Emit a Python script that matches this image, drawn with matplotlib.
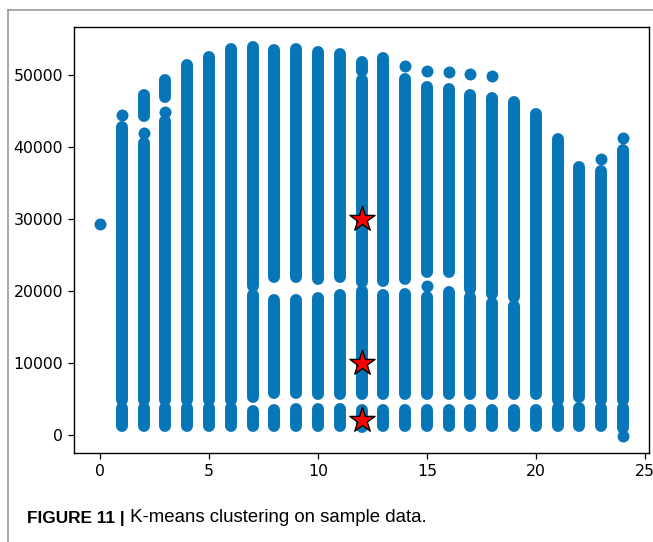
import matplotlib
matplotlib.use("Agg")
import matplotlib.pyplot as plt
from matplotlib.lines import Line2D

# ---- data ----
# continuous runs of points in each column: x, lowest y, highest y
seg_x = [1, 1,
         2, 2, 2,
         3, 3, 3,
         4, 4,
         5, 5,
         6, 6,
         7, 7, 7,
         8, 8, 8,
         9, 9, 9,
         10, 10, 10,
         11, 11, 11,
         12, 12, 12, 12,
         13, 13, 13,
         14, 14, 14,
         15, 15, 15,
         16, 16, 16,
         17, 17, 17,
         18, 18, 18,
         19, 19, 19,
         20, 20,
         21, 21,
         22, 22,
         23, 23,
         24, 24]
seg_lo = [1200, 4800,
          1200, 4800, 44300,
          1200, 4800, 47000,
          1200, 4800,
          1200, 4800,
          1200, 4800,
          1200, 5300, 20700,
          1200, 5900, 22000,
          1200, 5900, 21900,
          1200, 5700, 21650,
          1200, 5700, 21900,
          1050, 5700, 21200, 50500,
          1200, 5700, 21400,
          1200, 5700, 21650,
          1200, 5700, 22600,
          1200, 5700, 22600,
          1200, 5700, 20300,
          1200, 5700, 19600,
          1200, 5700, 19100,
          1200, 5700,
          1200, 4800,
          1200, 5300,
          1200, 4800,
          1000, 4800]
seg_hi = [3800, 42800,
          3800, 40600, 47200,
          3800, 43600, 49300,
          3800, 51400,
          3800, 52500,
          3800, 53600,
          3400, 19500, 53900,
          3450, 18700, 53500,
          3550, 18700, 53600,
          3550, 19000, 53250,
          3550, 19400, 52900,
          3450, 20000, 49300, 51850,
          3450, 19400, 52300,
          3450, 19600, 49500,
          3450, 19100, 48400,
          3450, 19850, 48100,
          3450, 19100, 47200,
          3450, 18400, 46750,
          3450, 17900, 46300,
          3450, 44650,
          3800, 41100,
          3700, 37250,
          3800, 36600,
          3800, 39600]

# isolated points
dot_x = [0, 1, 2, 3, 14, 15, 15, 16, 17, 18, 23, 24, 24]
dot_y = [29300, 44400, 41900, 44900, 51250, 20700, 50600, 50400, 50200, 49800, 38400, 41200, -100]

# cluster centres
centre_x = [12, 12, 12]
centre_y = [30000, 10000, 2100]

x_ticks = [0, 5, 10, 15, 20, 25]
y_ticks = [0, 10000, 20000, 30000, 40000, 50000]
caption_bold = "FIGURE 11 |"
caption_text = " K-means clustering on sample data."

BLUE = "#0676b8"
MS = 8.6  # marker diameter in points

fig = plt.figure(figsize=(6.53, 5.42), dpi=100)
ax = fig.add_axes([74 / 653, (542 - 453) / 542, 575 / 653, 426 / 542])

for x, lo, hi in zip(seg_x, seg_lo, seg_hi):
    ax.plot([x, x], [lo, hi], color=BLUE, lw=MS, solid_capstyle="round", zorder=2)
ax.scatter(dot_x, dot_y, s=MS ** 2, color=BLUE, linewidths=0, zorder=2)
ax.scatter(centre_x, centre_y, s=360, marker="*", color="red",
           edgecolors="black", linewidths=1.0, zorder=3)

ax.set_xlim(-1.2, 25.2)
ax.set_ylim(-2500, 56670)
ax.set_xticks(x_ticks)
ax.set_yticks(y_ticks)
ax.tick_params(labelsize=11.3, length=4.5, width=0.9)
for s in ax.spines.values():
    s.set_linewidth(1.0)

# page frame lines
fig.add_artist(Line2D([8 / 653, 8 / 653], [0, 1 - 10 / 542], color="#999999", lw=1.2,
                      transform=fig.transFigure))
fig.add_artist(Line2D([8 / 653, 1], [1 - 10 / 542, 1 - 10 / 542], color="#999999", lw=1.2,
                      transform=fig.transFigure))

t1 = fig.text(27 / 653, 1 - 518 / 542, caption_bold, fontsize=12.4, fontweight="bold",
              family="Liberation Sans", va="center", ha="left")
fig.canvas.draw()
bb = t1.get_window_extent()
fig.text(bb.x1 / 653, 1 - 518 / 542, caption_text, fontsize=13.4,
         family="Liberation Sans", va="center", ha="left")

fig.savefig("out.png", dpi=100)
